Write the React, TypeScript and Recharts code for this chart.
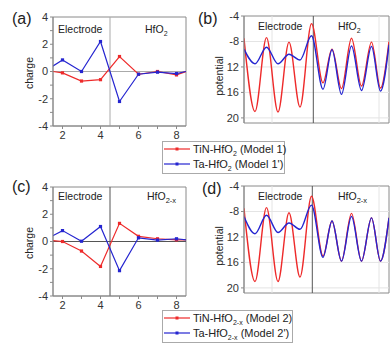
import { LineChart, Line, XAxis, YAxis, ReferenceLine, ReferenceArea } from 'recharts'

const RED = '#ee2a2a'
const BLUE = '#2525d0'
const FONT = '"Liberation Sans", Arial, sans-serif'
const FRAME = '#8a8a8a'

// atomic layer index (1 and 9 sit just outside the clipped frame)
const layers = [1, 2, 3, 4, 5, 6, 7, 8, 9]
const tinModel1 = [0.1, -0.1, -0.7, -0.6, 1.1, -0.2, 0.0, -0.25, 0.25]
const taModel1 = [-0.05, 0.85, 0.0, 2.2, -2.2, -0.2, -0.05, -0.15, 0.15]
const tinModel2 = [0.14, 0.0, -0.7, -1.83, 1.33, 0.38, 0.2, 0.12, 0.12]
const taModel2 = [0.06, 0.8, 0.02, 1.1, -2.14, 0.27, 0.1, 0.2, 0.04]
const layerTicks = [2, 3, 4, 5, 6, 7, 8]
const chargeTicks = [-4, -3, -2, -1, 0, 1, 2, 3, 4]

// planar-averaged potential, turning points along z
const potZ = [0, 11, 22.5, 34, 45, 56, 67.5, 79, 88, 97.5, 107.5, 117.5, 127.5, 136.5, 145]
const tinPot1 = [-7.5, -19, -7.4, -19.1, -8.1, -18.3, -5.2, -14.5, -9.2, -15.4, -7.5, -15, -8.1, -15.3, -8]
const taPot1 = [-9.2, -11.5, -8.9, -11.5, -10, -10.9, -7.1, -15.5, -9.3, -16.3, -8.7, -15.7, -8.8, -15.8, -8.5]
const tinPot2 = [-7.5, -19, -7.4, -19, -8.2, -18.3, -5.6, -15, -9.5, -15.8, -8.3, -15.8, -9, -15.8, -9]
const taPot2 = [-8.8, -11.5, -8.6, -11.3, -9.8, -10.8, -7, -15.2, -9.5, -15.8, -8.8, -15.8, -9, -15.8, -9]
const potTicks = [-4, -8, -12, -16, -20]
const potTickLabels = ['-4', '-8', '12', '16', '20']
const potGridZ = [28, 135]

const legend1 = [
  { color: RED, pre: 'TiN-HfO', sub: '2', post: ' (Model 1)' },
  { color: BLUE, pre: 'Ta-HfO', sub: '2', post: " (Model 1')" },
]
const legend2 = [
  { color: RED, pre: 'TiN-HfO', sub: '2-x', post: ' (Model 2)' },
  { color: BLUE, pre: 'Ta-HfO', sub: '2-x', post: " (Model 2')" },
]

const tickStyle = { fill: '#333', fontSize: 11, fontFamily: FONT }

const squareDot = (color: string) => (p: any) => (
  <rect key={`d-${p.index}`} x={p.cx - 1.6} y={p.cy - 1.6} width={3.2} height={3.2} fill={color} />
)

function ChargePanel({ tin, ta, top, sepColor }: { tin: number[]; ta: number[]; top: number; sepColor: string }) {
  const data = layers.map((x, i) => ({ x, tin: tin[i], ta: ta[i] }))
  return (
    <div style={{ position: 'absolute', left: 0, top }}>
      <LineChart width={190} height={145} data={data} margin={{ top: 17, right: 4, left: 0, bottom: 0 }}>
        <XAxis dataKey="x" type="number" domain={[1.5, 8.5]} allowDataOverflow ticks={layerTicks}
          tickFormatter={(v: number) => (v % 2 === 0 ? String(v) : '')} height={19} tickSize={3}
          stroke={FRAME} tick={tickStyle} />
        <YAxis type="number" domain={[-4, 4]} allowDataOverflow ticks={chargeTicks}
          tickFormatter={(v: number) => (v % 2 === 0 ? String(v) : '')} width={53} tickSize={3}
          stroke={FRAME} tick={tickStyle} />
        <ReferenceArea x1={1.5} x2={8.5} y1={-4} y2={4} fill="none" stroke={FRAME} />
        <ReferenceLine y={0} stroke={sepColor} />
        <ReferenceLine x={4.5} stroke={sepColor} />
        <Line dataKey="tin" stroke={RED} strokeWidth={1.2} dot={squareDot(RED)} isAnimationActive={false} />
        <Line dataKey="ta" stroke={BLUE} strokeWidth={1.2} dot={squareDot(BLUE)} isAnimationActive={false} />
      </LineChart>
    </div>
  )
}

function PotentialPanel({ tin, ta, top, sep }: { tin: number[]; ta: number[]; top: number; sep: number }) {
  const data = potZ.map((z, i) => ({ z, tin: tin[i], ta: ta[i] }))
  return (
    <div style={{ position: 'absolute', left: 195, top }}>
      <LineChart width={195} height={130} data={data} margin={{ top: 16, right: 1, left: 0, bottom: 7 }}>
        <XAxis dataKey="z" type="number" domain={[0, 145]} allowDataOverflow hide />
        <YAxis type="number" domain={[-20.8, -4]} allowDataOverflow ticks={potTicks}
          tickFormatter={(v: number) => potTickLabels[potTicks.indexOf(v)]} width={49} tickSize={3}
          stroke={FRAME} tick={tickStyle} />
        {potTicks.slice(1).map(v => <ReferenceLine key={v} y={v} stroke="#e4e4e4" />)}
        {potGridZ.map(v => <ReferenceLine key={v} x={v} stroke="#e4e4e4" />)}
        <ReferenceArea x1={0} x2={145} y1={-20.8} y2={-4} fill="none" stroke={FRAME} />
        <ReferenceLine x={sep} stroke="#555" />
        <Line dataKey="tin" type="monotone" stroke={RED} strokeWidth={1.4} dot={false} isAnimationActive={false} />
        <Line dataKey="ta" type="monotone" stroke={BLUE} strokeWidth={1.4} dot={false} isAnimationActive={false} />
      </LineChart>
    </div>
  )
}

function LegendBox({ left, top, width, items }: { left: number; top: number; width: number; items: typeof legend1 }) {
  return (
    <div style={{ position: 'absolute', left, top, width, height: 33, border: '1px solid #aaa', boxSizing: 'border-box', fontFamily: FONT, fontSize: 11, color: '#222' }}>
      {items.map((it, i) => (
        <div key={i} style={{ position: 'absolute', left: 1, top: 1 + i * 15, height: 12, display: 'flex', alignItems: 'center', whiteSpace: 'nowrap' }}>
          <svg width={26} height={8} style={{ marginRight: 3 }}>
            <line x1={0} y1={4} x2={26} y2={4} stroke={it.color} strokeWidth={1.2} />
            <rect x={11.5} y={2.5} width={3} height={3} fill={it.color} />
          </svg>
          <span>
            {it.pre}
            <sub style={{ fontSize: 7, lineHeight: 0 }}>{it.sub}</sub>
            {it.post}
          </span>
        </div>
      ))}
    </div>
  )
}

function Sub({ x, y, base, sub }: { x: number; y: number; base: string; sub: string }) {
  return (
    <text x={x} y={y} fontSize={10.5}>
      {base}
      <tspan fontSize={sub.length > 1 ? 7.5 : 7} dy={3}>{sub}</tspan>
    </text>
  )
}

export default function App() {
  return (
    <div style={{ position: 'absolute', left: 0, top: 0, width: 390, height: 347, background: '#fff', fontFamily: FONT }}>
      <ChargePanel tin={tinModel1} ta={taModel1} top={0} sepColor="#aaa" />
      <ChargePanel tin={tinModel2} ta={taModel2} top={170} sepColor="#555" />
      <PotentialPanel tin={tinPot1} ta={taPot1} top={0} sep={69.3} />
      <PotentialPanel tin={tinPot2} ta={taPot2} top={170} sep={68.3} />
      <LegendBox left={162} top={141} width={123} items={legend1} />
      <LegendBox left={162} top={310} width={131} items={legend2} />
      <svg width={390} height={347} style={{ position: 'absolute', left: 0, top: 0, pointerEvents: 'none', fontFamily: FONT }} fill="#222">
        <text x={12} y={24} fontSize={16}>(a)</text>
        <text x={198} y={24} fontSize={16}>(b)</text>
        <text x={12} y={192} fontSize={16}>(c)</text>
        <text x={202} y={194} fontSize={16}>(d)</text>
        <text x={29} y={73} transform="rotate(-90 29 73)" textAnchor="middle" dy="0.35em" fontSize={10.5}>charge</text>
        <text x={29} y={243} transform="rotate(-90 29 243)" textAnchor="middle" dy="0.35em" fontSize={10.5}>charge</text>
        <text x={219} y={76} transform="rotate(-90 219 76)" textAnchor="middle" dy="0.35em" fontSize={10.5}>potential</text>
        <text x={219} y={246} transform="rotate(-90 219 246)" textAnchor="middle" dy="0.35em" fontSize={10.5}>potential</text>
        <text x={58} y={33} fontSize={10.5}>Electrode</text>
        <Sub x={145} y={33} base="HfO" sub="2" />
        <text x={258} y={30} fontSize={10.5}>Electrode</text>
        <Sub x={338} y={30} base="HfO" sub="2" />
        <text x={58} y={200} fontSize={10.5}>Electrode</text>
        <Sub x={147} y={200} base="HfO" sub="2-x" />
        <text x={258} y={200} fontSize={10.5}>Electrode</text>
        <Sub x={338} y={200} base="HfO" sub="2-x" />
      </svg>
    </div>
  )
}
